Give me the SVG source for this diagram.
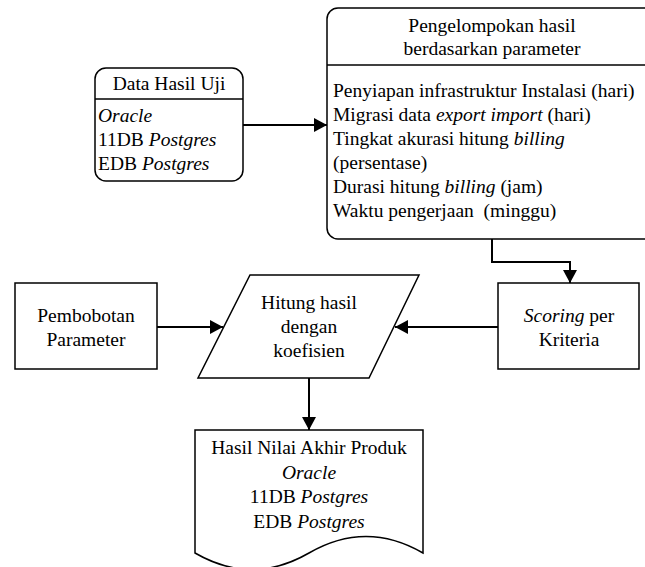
<svg xmlns="http://www.w3.org/2000/svg" width="645" height="567" viewBox="0 0 645 567">
<style>
text{font-size:19.5px;fill:#000;white-space:pre}
.c{text-anchor:middle}
.i{font-style:italic}
.box{fill:#fff;stroke:#000;stroke-width:1.5}
.con{fill:none;stroke:#000;stroke-width:2}
</style>
<defs>
<marker id="ah" markerWidth="14" markerHeight="14" refX="13" refY="7" orient="auto" markerUnits="userSpaceOnUse">
<path d="M0,0 L13,7 L0,14 Z" fill="#000"/>
</marker>
</defs>
<rect width="645" height="567" fill="#fff"/>
<g font-family="'Liberation Serif', 'DejaVu Serif', serif">
<g id="connectors">
<path class="con" d="M243,125 H327" marker-end="url(#ah)"/>
<path class="con" d="M492,239 V262 H570 V283" marker-end="url(#ah)"/>
<path class="con" d="M157,327 H223" marker-end="url(#ah)"/>
<path class="con" d="M498,327 H395" marker-end="url(#ah)"/>
<path class="con" d="M309,378 V430" marker-end="url(#ah)"/>
</g>
<g id="data-hasil-uji">
<rect class="box" x="95" y="68" width="148" height="113" rx="11"/>
<line x1="95" y1="99" x2="243" y2="99" stroke="#000" stroke-width="1.5"/>
<text class="c" x="169" y="90">Data Hasil Uji</text>
<text x="98" y="122" class="i">Oracle</text>
<text x="98" y="146">11DB <tspan class="i">Postgres</tspan></text>
<text x="98" y="170">EDB <tspan class="i">Postgres</tspan></text>
</g>
<g id="pengelompokan">
<rect class="box" x="327" y="8" width="330" height="231" rx="11"/>
<line x1="327" y1="65" x2="657" y2="65" stroke="#000" stroke-width="1.5"/>
<text class="c" x="492" y="32">Pengelompokan hasil</text>
<text class="c" x="492" y="55">berdasarkan parameter</text>
<text x="333" y="97">Penyiapan infrastruktur Instalasi (hari)</text>
<text x="333" y="121">Migrasi data <tspan class="i">export import</tspan> (hari)</text>
<text x="333" y="145">Tingkat akurasi hitung <tspan class="i">billing</tspan></text>
<text x="333" y="169">(persentase)</text>
<text x="333" y="193">Durasi hitung <tspan class="i">billing</tspan> (jam)</text>
<text x="333" y="217">Waktu pengerjaan  (minggu)</text>
</g>
<g id="pembobotan">
<rect class="box" x="15" y="283" width="142" height="86"/>
<text class="c" x="86" y="322">Pembobotan</text>
<text class="c" x="86" y="346">Parameter</text>
</g>
<g id="hitung">
<path class="box" d="M250,275 H419 L369,378 H198 Z"/>
<text class="c" x="309" y="309">Hitung hasil</text>
<text class="c" x="309" y="333">dengan</text>
<text class="c" x="309" y="357">koefisien</text>
</g>
<g id="scoring">
<rect class="box" x="498" y="283" width="141" height="86"/>
<text class="c" x="569" y="322"><tspan class="i">Scoring</tspan> per</text>
<text class="c" x="569" y="346">Kriteria</text>
</g>
<g id="hasil-akhir">
<path class="box" d="M195,430 H423 V553 Q366,520 309,553 Q252,586 195,553 Z"/>
<text class="c" x="309" y="454">Hasil Nilai Akhir Produk</text>
<text class="c i" x="309" y="479">Oracle</text>
<text class="c" x="309" y="503">11DB <tspan class="i">Postgres</tspan></text>
<text class="c" x="309" y="528">EDB <tspan class="i">Postgres</tspan></text>
</g>
</g>
</svg>
